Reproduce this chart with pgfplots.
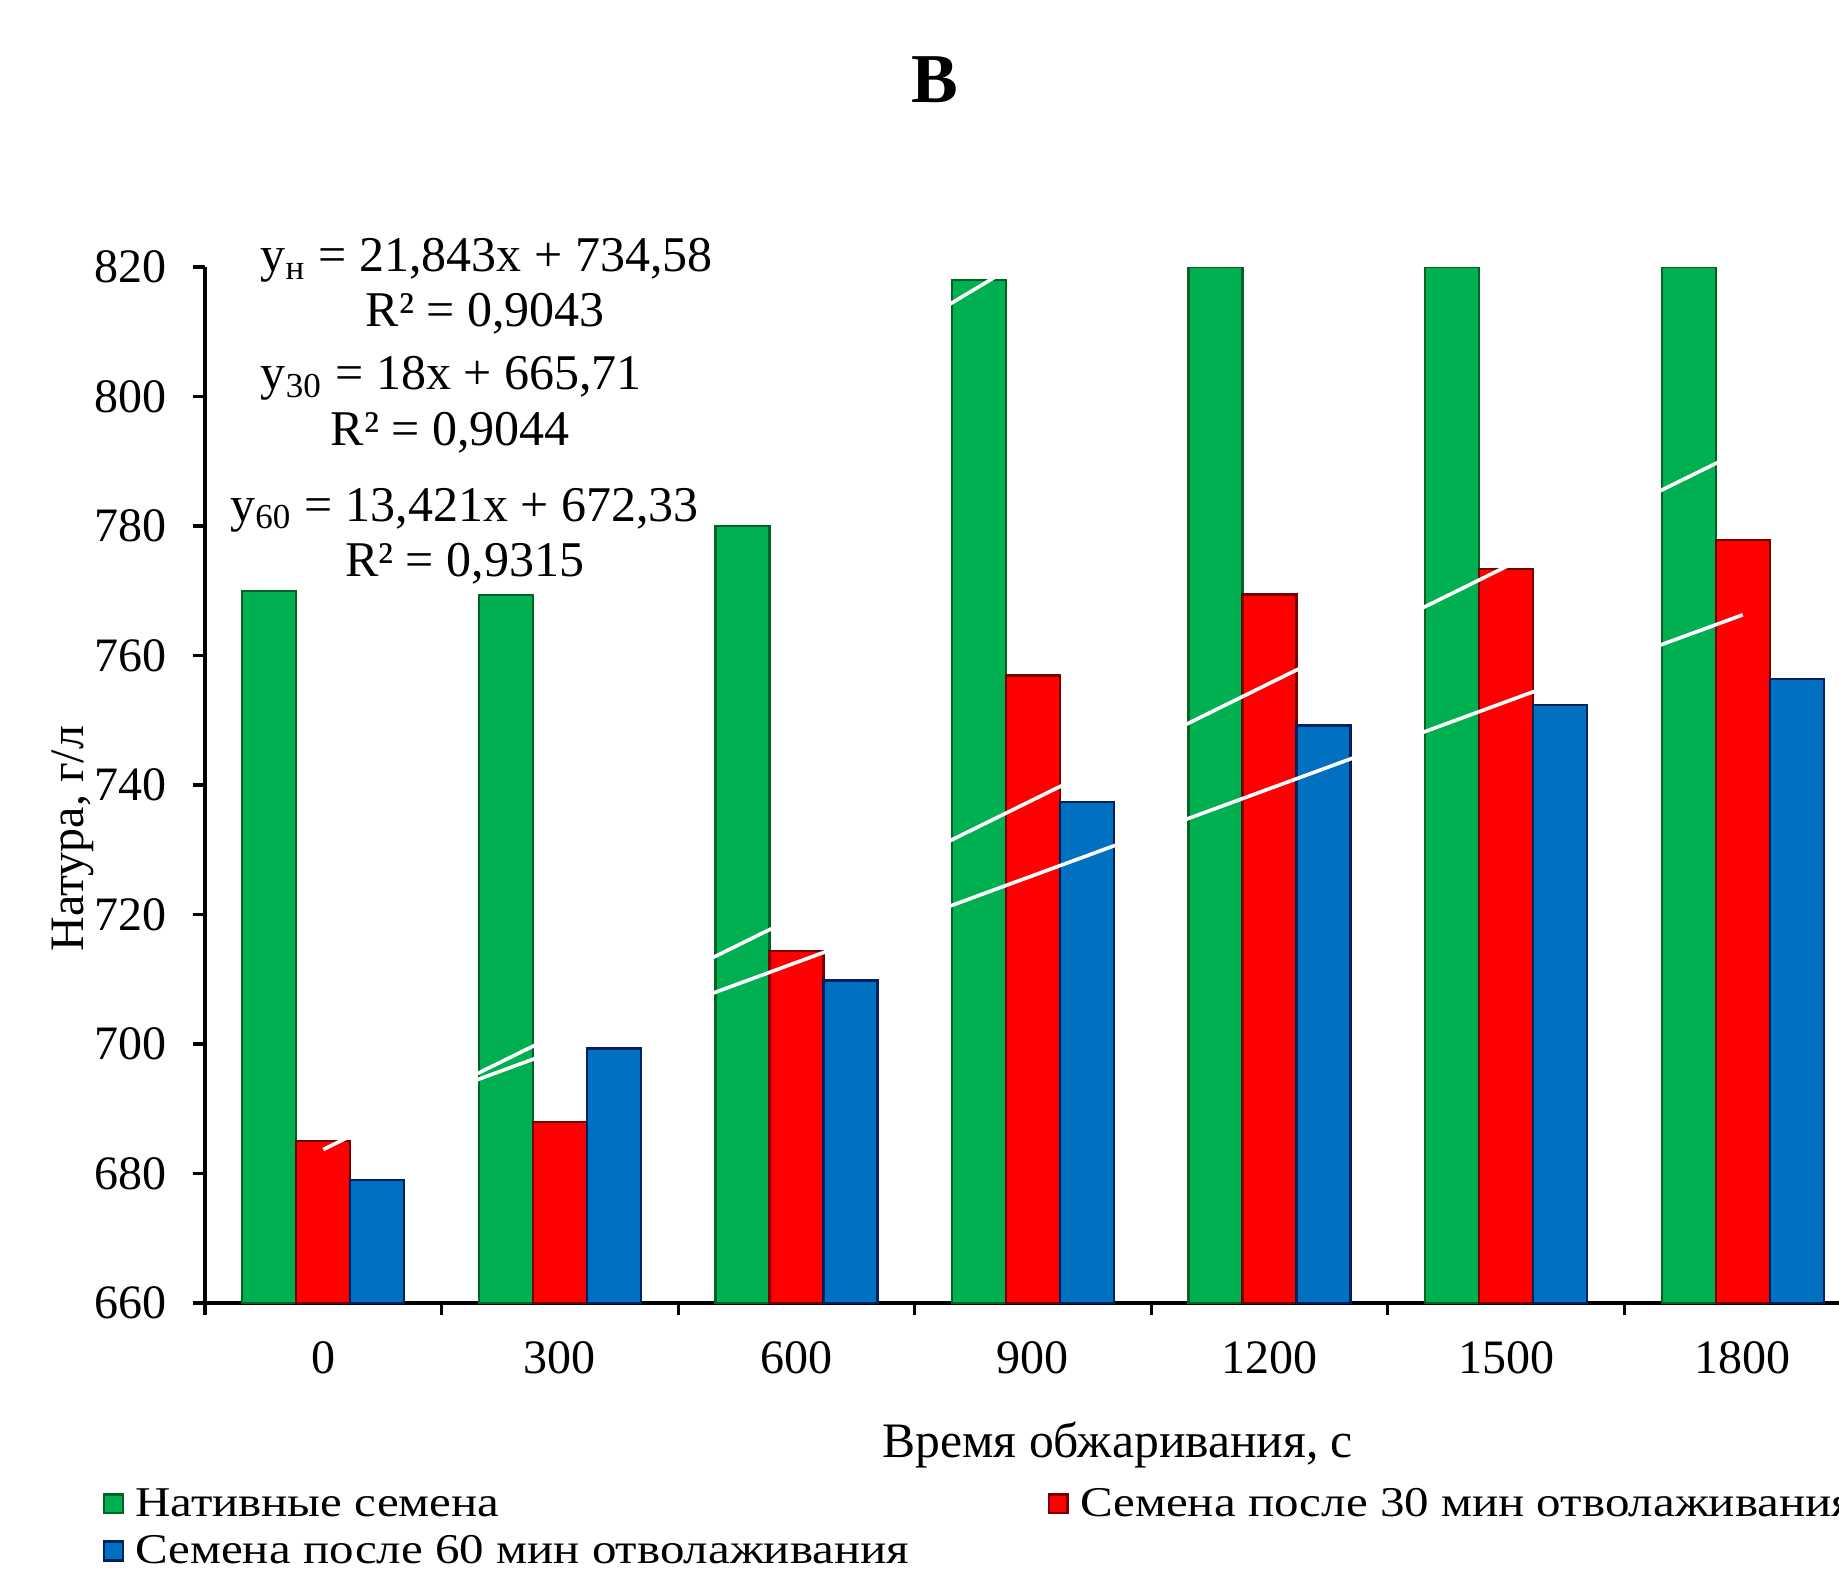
\documentclass[border=0pt]{standalone}
\usepackage{fontspec}
\setmainfont{Liberation Serif}
\newfontfamily\legfont[FakeStretch=1.155]{Liberation Serif}
\usepackage{pgfplots}
\pgfplotsset{compat=1.18}
\definecolor{gfill}{RGB}{0,176,80}
\definecolor{gedge}{RGB}{0,100,35}
\definecolor{rfill}{RGB}{255,0,0}
\definecolor{redge}{RGB}{120,0,0}
\definecolor{bfill}{RGB}{0,112,192}
\definecolor{bedge}{RGB}{0,32,96}
\pgfplotsset{sqleg/.style={legend image code/.code={\draw[##1, line width=0.6pt] (0pt,-2.35pt) rectangle (4.7pt,2.35pt);}}}
\begin{document}
\begin{tikzpicture}
\begin{axis}[
  at={(0,0)}, anchor=south west,
  scale only axis, width=414pt, height=259pt,
  xmin=-0.5, xmax=6.5, ymin=660, ymax=820,
  axis lines*=left,
  axis line style={line width=0.8pt, black},
  ytick={660,680,...,820},
  xtick={0,...,6}, xticklabels={0,300,600,900,1200,1500,1800},
  minor xtick={-0.5,0.5,...,6.5},
  tick align=outside,
  major tick length=3pt, minor tick length=3pt,
  tick style={black, line width=0.8pt},
  major x tick style={draw=none},
  /pgf/number format/assume math mode=true,
  ticklabel style={font=\fontsize{12}{14}\selectfont},
  xticklabel style={yshift=-3pt},
  yticklabel style={xshift=-3pt, /pgf/number format/fixed, /pgf/number format/1000 sep={}},
  legend cell align=left,
  legend style={at={(-0.0622,-0.1703)}, anchor=north west, draw=none, fill=none,
    inner sep=0pt, font=\legfont\fontsize{10.6}{12}\selectfont,
    nodes={inner sep=0.6pt, text height=8.4pt, text depth=2.2pt},
    /tikz/column 1/.style={column sep=2.2pt},
    /tikz/column 2/.style={column sep=34pt},
    /tikz/column 3/.style={column sep=2.2pt}},
  legend columns=2,
]
\addplot[ybar, bar width=13.5pt, bar shift=-13.5pt, fill=gfill, draw=gedge, line width=0.6pt,
  restrict y to domain*=660:820, sqleg]
  coordinates {(0,770) (1,769.3) (2,780) (3,818) (4,858) (5,882) (6,876)};
\addlegendentry{Нативные семена}
\addplot[ybar, bar width=13.5pt, bar shift=0pt, fill=rfill, draw=redge, line width=0.6pt, sqleg]
  coordinates {(0,685) (1,688) (2,714.4) (3,756.9) (4,769.4) (5,773.4) (6,777.8)};
\addlegendentry{Семена после 30 мин отволаживания}
\addplot[ybar, bar width=13.5pt, bar shift=13.5pt, fill=bfill, draw=bedge, line width=0.6pt, sqleg]
  coordinates {(0,679) (1,699.3) (2,709.8) (3,737.4) (4,749.2) (5,752.4) (6,756.4)};
\addlegendentry{Семена после 60 мин отволаживания}
% linear trendlines (white)
\addplot[sharp plot, white, line width=0.9pt, no marks, forget plot] coordinates {(0,756.42) (6,887.48)};
\addplot[sharp plot, white, line width=0.9pt, no marks, forget plot] coordinates {(0,683.71) (6,791.71)};
\addplot[sharp plot, white, line width=0.9pt, no marks, forget plot] coordinates {(0,685.75) (6,766.28)};
\end{axis}
\node[font=\bfseries\fontsize{17.5}{20}\selectfont] at (182.4pt,305.8pt) {В};
\begin{scope}[every node/.style={font=\fontsize{12.5}{14}\selectfont, inner sep=0pt}]
\node at (70.4pt,260.6pt) {y\textsubscript{н} = 21,843x + 734,58};
\node at (70.1pt,247.2pt) {R² = 0,9043};
\node at (61.6pt,231.1pt) {y\textsubscript{30} = 18x + 665,71};
\node at (61.3pt,217.6pt) {R² = 0,9044};
\node at (64.9pt,198.2pt) {y\textsubscript{60} = 13,421x + 672,33};
\node at (64.9pt,184.7pt) {R² = 0,9315};
\end{scope}
\node[rotate=90, font=\fontsize{12}{14}\selectfont, inner sep=0pt] at (-33.1pt,116.1pt) {Натура, г/л};
\node[font=\fontsize{12.4}{14}\selectfont, inner sep=0pt] at (228.2pt,-35.5pt) {Время обжаривания, с};
\pgfresetboundingbox
\useasboundingbox (-51.25pt,-68.25pt) rectangle (408.5pt,325.75pt);
\end{tikzpicture}
\end{document}
